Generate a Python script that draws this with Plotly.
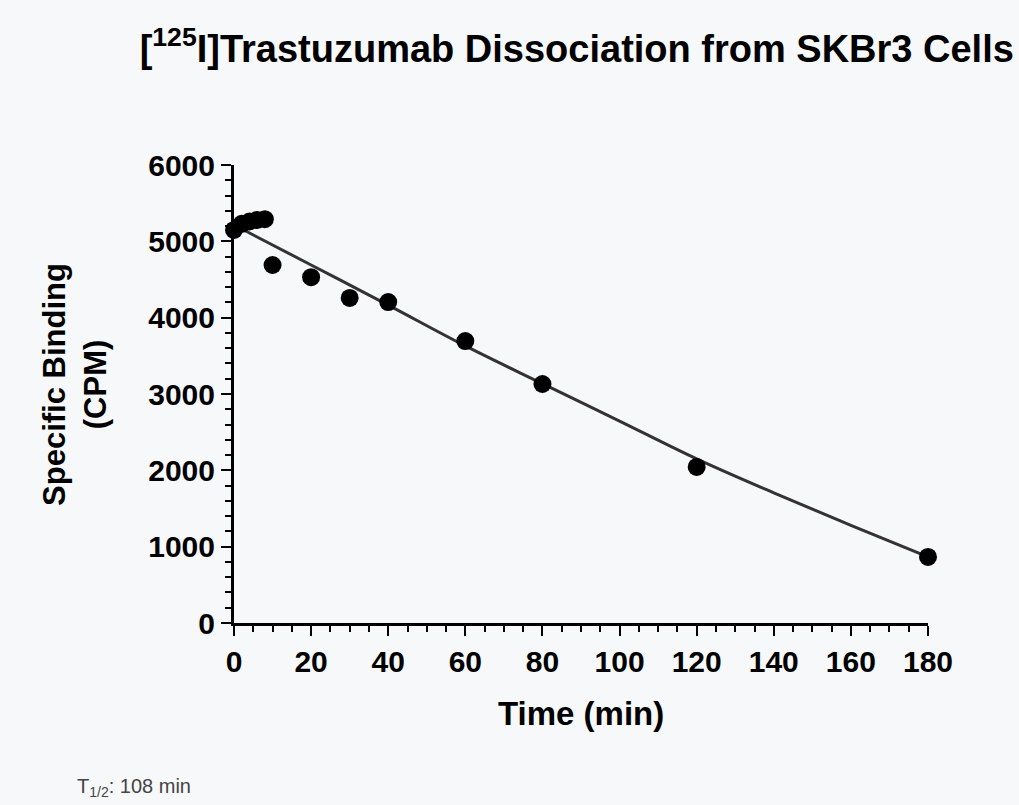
import plotly.graph_objects as go

# Observed data (time in min, specific binding in CPM)
time_min = [0, 2, 4, 6, 8, 10, 20, 30, 40, 60, 80, 120, 180]
binding_cpm = [5150, 5230, 5260, 5280, 5290, 4690, 4530, 4258, 4205, 3694, 3131, 2044, 865]

# Fitted curve
fit_time = [0, 20, 40, 60, 80, 100, 120, 140, 160, 180]
fit_cpm = [5215, 4690, 4165, 3630, 3135, 2645, 2150, 1705, 1280, 865]

x_ticks = [0, 20, 40, 60, 80, 100, 120, 140, 160, 180]
y_ticks = [0, 1000, 2000, 3000, 4000, 5000, 6000]

FONT = "Liberation Sans, Arial, sans-serif"
BG = "#f6f8f9"

fig = go.Figure()
fig.add_trace(go.Scatter(
    x=fit_time, y=fit_cpm, mode="lines", line=dict(color="#333333", width=3, shape="spline"),
    showlegend=False, hoverinfo="skip"))
fig.add_trace(go.Scatter(
    x=time_min, y=binding_cpm, mode="markers",
    marker=dict(color="black", size=18, symbol="circle"),
    cliponaxis=False, showlegend=False))

fig.update_layout(
    width=1019, height=805,
    paper_bgcolor=BG, plot_bgcolor=BG,
    margin=dict(l=234, r=91, t=165, b=182),
    font=dict(family=FONT, color="black"),
    title=dict(text="[<sup>125</sup>I]Trastuzumab Dissociation from SKBr3 Cells",
               x=0.566, xanchor="center", y=0.94, yanchor="middle", xref="container", yref="container",
               font=dict(size=38, family=FONT, color="black", weight="bold")),
    annotations=[
        dict(text="Specific Binding<br>(CPM)", xref="paper", yref="paper", x=-0.229, y=0.52,
             textangle=-90, showarrow=False, xanchor="center", yanchor="middle",
             font=dict(size=31, family=FONT, color="black", weight="bold")),
        dict(text="Time (min)", xref="paper", yref="paper", x=0.5, y=-0.197,
             showarrow=False, xanchor="center", yanchor="middle",
             font=dict(size=33, family=FONT, color="black", weight="bold")),
        dict(text="T<sub>1/2</sub>: 108 min", xref="paper", yref="paper", x=-0.229, y=-0.36,
             showarrow=False, xanchor="left", yanchor="middle",
             font=dict(size=20, family=FONT, color="#444444")),
    ],
)

fig.update_xaxes(
    range=[0, 180], tickvals=x_ticks, ticktext=[str(v) for v in x_ticks],
    showgrid=False, zeroline=False, showline=True, linecolor="black", linewidth=3,
    ticks="outside", ticklen=10, tickwidth=2, tickcolor="black",
    minor=dict(dtick=5, ticks="outside", ticklen=6, tickwidth=2, tickcolor="black", showgrid=False),
    tickfont=dict(size=30, family=FONT, color="black", weight="bold"))
fig.update_yaxes(
    range=[0, 6000], tickvals=y_ticks, ticktext=[str(v) for v in y_ticks],
    showgrid=False, zeroline=False, showline=True, linecolor="black", linewidth=3,
    ticks="outside", ticklen=10, tickwidth=2, tickcolor="black",
    minor=dict(dtick=200, ticks="outside", ticklen=6, tickwidth=2, tickcolor="black", showgrid=False),
    tickfont=dict(size=30, family=FONT, color="black", weight="bold"))

fig.write_html(
    "out.html",
    config={"displayModeBar": False},
    post_script="document.body.style.margin='0';document.body.style.background='" + BG + "';",
)
